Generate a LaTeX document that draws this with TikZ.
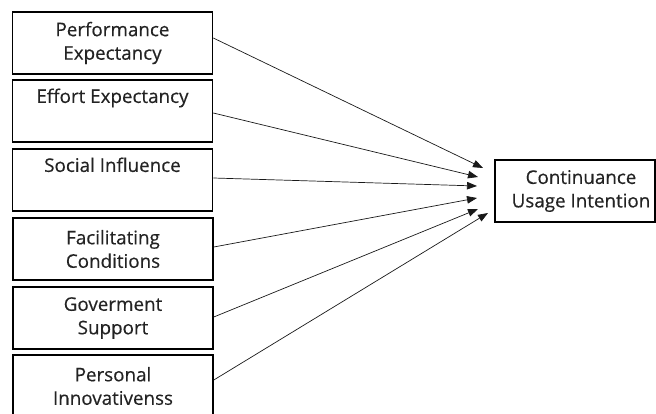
\documentclass[tikz,border=0pt]{standalone}
\usepackage{fontspec}
\newfontfamily\boxfont{Open Sans}[FakeBold=0.4]
\usetikzlibrary{arrows.meta}
\definecolor{txt}{RGB}{35,35,35}
\tikzset{
  box/.style={draw=black, line width=1.6pt, minimum width=200pt, minimum height=62pt,
    inner sep=0pt, align=center, text=txt, font=\boxfont\fontsize{18.8}{23.5}\selectfont},
  link/.style={draw=black!90, line width=0.7pt, -{Triangle[length=10pt,width=7.5pt]}}
}
\begin{document}
\begin{tikzpicture}[x=1pt,y=-1pt]
\useasboundingbox (0,0) rectangle (656,414);
\begin{scope}
\clip (0,0) rectangle (656,414);
\node[box] (b1) at (112.5,43) {Performance\\Expectancy};
\node[box] (b2) at (112.5,111) {Effort Expectancy\\\strut};
\node[box] (b3) at (112.5,180) {Social Influence\\\strut};
\node[box] (b4) at (113,249) {Facilitating\\Conditions};
\node[box] (b5) at (113,318) {Goverment\\Support};
\node[box] (b6) at (113,386) {Personal\\Innovativenss};
\node[box, minimum width=160pt] (t) at (575,191) {\hspace*{12pt}Continuance\\\hspace*{12pt}Usage Intention};
\end{scope}
\coordinate (e1) at (483,168);
\coordinate (e2) at (478,177);
\coordinate (e3) at (477,186);
\coordinate (e4) at (477,198);
\coordinate (e5) at (478,209);
\coordinate (e6) at (488,213);
\draw[link] ([yshift=5pt]b1.east) -- (e1);
\draw[link] ([yshift=-2pt]b2.east) -- (e2);
\draw[link] ([yshift=2pt]b3.east) -- (e3);
\draw[link] ([yshift=2pt]b4.east) -- (e4);
\draw[link] ([yshift=1pt]b5.east) -- (e5);
\draw[link] ([yshift=6pt]b6.east) -- (e6);
\end{tikzpicture}
\end{document}
